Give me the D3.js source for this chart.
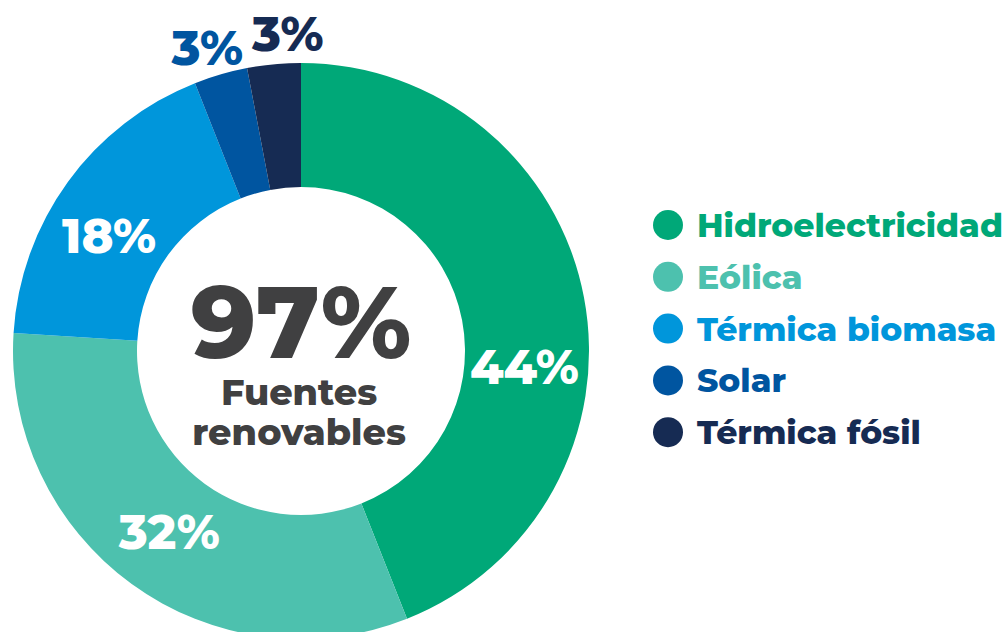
<!DOCTYPE html>
<html>
<head>
<meta charset="utf-8">
<script src="https://cdn.jsdelivr.net/npm/d3@7"></script>
<style>
  body { margin: 0; background: #fff; }
  svg { display: block; }
  text { font-family: Montserrat, "DejaVu Sans", sans-serif; font-weight: 800; }
</style>
</head>
<body>
<div id="main"></div>
<script>
const categories = ['Hidroelectricidad', 'Eólica', 'Térmica biomasa', 'Solar', 'Térmica fósil'];
const shares = [44, 32, 18, 3, 3];
const colors = ['#00a878', '#4dc1ae', '#0096db', '#0055a0', '#162b53'];
const centerValue = '97%';
const centerLines = ['Fuentes', 'renovables'];

const w = 1003, h = 632;
const cx = 301, cy = 351, rOuter = 288, rInner = 164;

const data = categories.map((c, i) => ({ name: c, value: shares[i], color: colors[i] }));

const svg = d3.select('#main')
              .append('svg')
              .attr('width', w)
              .attr('height', h);

const pie = d3.pie()
              .sort(null)
              .value(d => d.value);

const arc = d3.arc()
              .innerRadius(rInner)
              .outerRadius(rOuter);

const chart = svg.append('g')
                 .attr('transform', 'translate(' + cx + ',' + cy + ')');

const arcs = pie(data);

chart.selectAll('path')
     .data(arcs)
     .enter()
     .append('path')
     .attr('d', arc)
     .attr('fill', d => d.data.color);

// small slices get their label outside the ring
// angle nudges (degrees) to match the hand placed labels
const nudge = { 'Hidroelectricidad': 15, 'Térmica biomasa': -5, 'Solar': -1, 'Térmica fósil': 3 };
const labelPos = d => {
    const small = d.data.value < 10;
    const r = small ? 317 : 224;
    const a = (d.startAngle + d.endAngle) / 2 + (nudge[d.data.name] || 0) * Math.PI / 180;
    return [r * Math.sin(a), -r * Math.cos(a)];
};

chart.selectAll('.pct')
     .data(arcs)
     .enter()
     .append('text')
     .attr('class', 'pct')
     .attr('x', d => labelPos(d)[0])
     .attr('y', d => labelPos(d)[1] + 17)
     .attr('text-anchor', 'middle')
     .attr('font-size', 48)
     .attr('fill', d => d.data.value < 10 ? d.data.color : '#fff')
     .text(d => d.data.value + '%');

chart.append('text')
     .attr('x', 0)
     .attr('y', 7)
     .attr('text-anchor', 'middle')
     .attr('font-size', 101)
     .attr('fill', '#404041')
     .text(centerValue);

chart.selectAll('.sub')
     .data(centerLines)
     .enter()
     .append('text')
     .attr('class', 'sub')
     .attr('x', -2)
     .attr('y', (d, i) => 54 + i * 40)
     .attr('text-anchor', 'middle')
     .attr('font-size', 36.5)
     .attr('fill', '#404041')
     .text(d => d);

const legend = svg.append('g')
                  .attr('id', 'legend')
                  .attr('transform', 'translate(668,225)');

const rows = legend.selectAll('g')
                   .data(data)
                   .enter()
                   .append('g')
                   .attr('transform', (d, i) => 'translate(0,' + (i * 51.8) + ')');

rows.append('circle')
    .attr('r', 15)
    .attr('fill', d => d.color);

rows.append('text')
    .attr('x', 29)
    .attr('y', 12)
    .attr('font-size', 33)
    .attr('fill', d => d.color)
    .text(d => d.name);
</script>
</body>
</html>
